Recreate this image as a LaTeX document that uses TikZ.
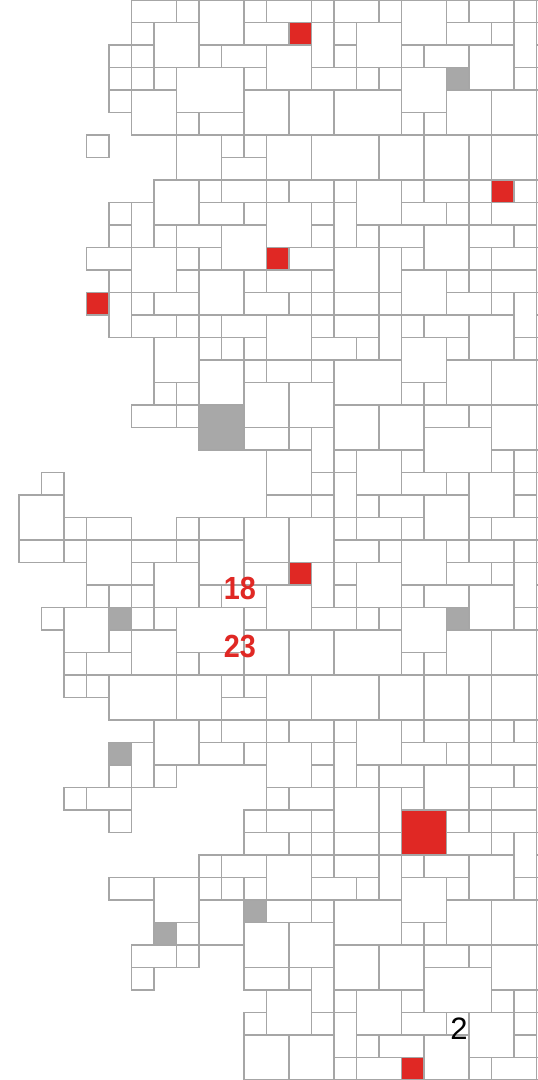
\documentclass[tikz,border=0pt]{standalone}
\usepackage{fontspec}
\setmainfont{Liberation Sans}
\definecolor{lin}{RGB}{166,166,166}
\definecolor{tred}{RGB}{224,40,36}
\definecolor{tgray}{RGB}{168,168,168}
\tikzset{
  tile/.style={draw=lin, line width=1.7pt, fill=white},
  redtile/.style={tile, fill=tred},
  graytile/.style={tile, fill=tgray},
  numred/.style={text=tred, font=\bfseries\fontsize{32}{32}\selectfont, inner sep=0pt, xscale=0.9},
  numblack/.style={text=black, font=\fontsize{31}{31}\selectfont, inner sep=0pt}
}
\newcommand{\TT}[5]{\draw[#5] ({19+22.5*#1},{-22.5*#2}) rectangle ({19+22.5*(#1+#3)},{-22.5*(#2+#4)});}
\begin{document}
\begin{tikzpicture}[x=1pt,y=1pt]
\useasboundingbox (0,0) rectangle (538,-1080);
\clip (0,0) rectangle (538,-1080);
\fill[white] (0,0) rectangle (538,-1080);
\foreach \c/\r/\w/\h/\s in {
5/0/2/1/tile, 7/0/1/1/tile, 8/0/2/2/tile, 10/0/1/1/tile, 11/0/2/1/tile, 13/0/1/1/tile, 14/0/2/1/tile, 16/0/1/1/tile, 17/0/2/2/tile, 19/0/1/1/tile, 20/0/2/1/tile, 22/0/1/1/tile,
5/1/1/1/tile, 6/1/2/2/tile, 10/1/2/1/tile, 12/1/1/1/redtile, 13/1/1/2/tile, 14/1/1/1/tile, 15/1/2/2/tile, 19/1/2/1/tile, 21/1/1/1/tile, 22/1/1/2/tile,
4/2/1/1/tile, 5/2/1/1/tile, 8/2/1/1/tile, 9/2/2/1/tile, 11/2/2/2/tile, 14/2/1/1/tile, 17/2/1/1/tile, 18/2/2/1/tile, 20/2/2/2/tile,
4/3/1/1/tile, 5/3/1/1/tile, 6/3/1/1/tile, 7/3/3/2/tile, 10/3/1/1/tile, 13/3/2/1/tile, 15/3/1/1/tile, 16/3/1/1/tile, 17/3/2/2/tile, 19/3/1/1/graytile, 22/3/1/1/tile,
4/4/1/1/tile, 5/4/2/2/tile, 10/4/2/2/tile, 12/4/2/2/tile, 14/4/3/2/tile, 19/4/2/2/tile, 21/4/2/2/tile,
7/5/1/1/tile, 8/5/2/1/tile, 17/5/1/1/tile, 18/5/1/1/tile,
3/6/1/1/tile, 7/6/2/2/tile, 9/6/1/1/tile, 10/6/1/1/tile, 11/6/2/2/tile, 13/6/3/2/tile, 16/6/2/2/tile, 18/6/2/2/tile, 20/6/1/2/tile, 21/6/2/2/tile,
9/7/2/1/tile,
6/8/2/2/tile, 8/8/1/1/tile, 9/8/2/1/tile, 11/8/1/1/tile, 12/8/2/1/tile, 14/8/1/1/tile, 15/8/2/2/tile, 17/8/1/1/tile, 18/8/2/1/tile, 20/8/1/1/tile, 21/8/1/1/redtile, 22/8/1/1/tile,
4/9/1/1/tile, 5/9/1/2/tile, 8/9/2/1/tile, 10/9/1/1/tile, 11/9/2/2/tile, 13/9/1/1/tile, 14/9/1/2/tile, 17/9/2/1/tile, 19/9/1/1/tile, 20/9/1/1/tile, 21/9/2/1/tile,
4/10/1/1/tile, 6/10/1/1/tile, 7/10/2/1/tile, 9/10/2/2/tile, 13/10/1/1/tile, 15/10/1/1/tile, 16/10/2/1/tile, 18/10/2/2/tile, 20/10/2/1/tile, 22/10/1/1/tile,
3/11/2/1/tile, 5/11/2/2/tile, 7/11/1/1/tile, 8/11/1/1/tile, 11/11/1/1/redtile, 12/11/2/1/tile, 14/11/2/2/tile, 16/11/1/2/tile, 17/11/1/1/tile, 20/11/1/1/tile, 21/11/2/1/tile,
4/12/1/1/tile, 7/12/1/1/tile, 8/12/2/2/tile, 10/12/1/1/tile, 11/12/2/1/tile, 13/12/1/1/tile, 17/12/2/2/tile, 19/12/1/1/tile, 20/12/1/1/tile, 21/12/2/1/tile,
3/13/1/1/redtile, 4/13/1/2/tile, 5/13/1/1/tile, 6/13/2/1/tile, 10/13/2/1/tile, 12/13/1/1/tile, 13/13/1/1/tile, 14/13/2/1/tile, 16/13/1/1/tile, 19/13/2/1/tile, 21/13/1/1/tile, 22/13/1/2/tile,
5/14/2/1/tile, 7/14/1/1/tile, 8/14/1/1/tile, 9/14/2/1/tile, 11/14/2/2/tile, 13/14/1/1/tile, 14/14/2/1/tile, 16/14/1/2/tile, 17/14/1/1/tile, 18/14/2/1/tile, 20/14/2/2/tile,
6/15/2/2/tile, 8/15/1/1/tile, 9/15/1/1/tile, 10/15/1/1/tile, 13/15/2/1/tile, 15/15/1/1/tile, 17/15/2/2/tile, 19/15/1/1/tile, 22/15/1/1/tile,
8/16/2/2/tile, 10/16/1/1/tile, 11/16/2/1/tile, 13/16/1/1/tile, 14/16/3/2/tile, 19/16/2/2/tile, 21/16/2/2/tile,
6/17/1/1/tile, 7/17/1/1/tile, 10/17/2/2/tile, 12/17/2/2/tile, 17/17/1/1/tile, 18/17/1/1/tile,
5/18/2/1/tile, 7/18/1/1/tile, 8/18/2/2/graytile, 14/18/2/2/tile, 16/18/2/2/tile, 18/18/2/1/tile, 20/18/1/1/tile, 21/18/2/2/tile,
10/19/2/1/tile, 12/19/1/1/tile, 13/19/1/2/tile, 18/19/3/2/tile,
11/20/2/2/tile, 14/20/1/1/tile, 15/20/2/2/tile, 17/20/1/1/tile, 21/20/1/1/tile, 22/20/1/1/tile,
1/21/1/1/tile, 13/21/1/1/tile, 14/21/1/2/tile, 17/21/2/1/tile, 19/21/1/1/tile, 20/21/2/2/tile, 22/21/1/1/tile,
0/22/2/2/tile, 11/22/2/1/tile, 13/22/1/1/tile, 15/22/1/1/tile, 16/22/2/1/tile, 18/22/2/2/tile, 22/22/1/1/tile,
2/23/1/1/tile, 3/23/2/1/tile, 7/23/1/1/tile, 8/23/2/1/tile, 10/23/2/2/tile, 12/23/2/2/tile, 14/23/1/1/tile, 15/23/2/1/tile, 17/23/1/1/tile, 20/23/1/1/tile, 21/23/2/1/tile,
0/24/2/1/tile, 2/24/1/1/tile, 3/24/2/2/tile, 5/24/2/1/tile, 7/24/1/1/tile, 8/24/2/2/tile, 14/24/2/1/tile, 16/24/1/1/tile, 17/24/2/2/tile, 19/24/1/1/tile, 20/24/2/1/tile, 22/24/1/1/tile,
5/25/1/1/tile, 6/25/2/2/tile, 10/25/2/1/tile, 12/25/1/1/redtile, 13/25/1/2/tile, 14/25/1/1/tile, 15/25/2/2/tile, 19/25/2/1/tile, 21/25/1/1/tile, 22/25/1/2/tile,
3/26/1/1/tile, 4/26/1/1/tile, 5/26/1/1/tile, 8/26/1/1/tile, 9/26/2/1/tile, 11/26/2/2/tile, 14/26/1/1/tile, 17/26/1/1/tile, 18/26/2/1/tile, 20/26/2/2/tile,
1/27/1/1/tile, 2/27/2/2/tile, 4/27/1/1/graytile, 5/27/1/1/tile, 6/27/1/1/tile, 7/27/3/2/tile, 10/27/1/1/tile, 13/27/2/1/tile, 15/27/1/1/tile, 16/27/1/1/tile, 17/27/2/2/tile, 19/27/1/1/graytile, 22/27/1/1/tile,
4/28/1/1/tile, 5/28/2/2/tile, 10/28/2/2/tile, 12/28/2/2/tile, 14/28/3/2/tile, 19/28/2/2/tile, 21/28/2/2/tile,
2/29/1/1/tile, 3/29/2/1/tile, 7/29/1/1/tile, 8/29/2/1/tile, 17/29/1/1/tile, 18/29/1/1/tile,
2/30/1/1/tile, 3/30/1/1/tile, 4/30/3/2/tile, 7/30/2/2/tile, 9/30/1/1/tile, 10/30/1/1/tile, 11/30/2/2/tile, 13/30/3/2/tile, 16/30/2/2/tile, 18/30/2/2/tile, 20/30/1/2/tile, 21/30/2/2/tile,
9/31/2/1/tile,
6/32/2/2/tile, 8/32/1/1/tile, 9/32/2/1/tile, 11/32/1/1/tile, 12/32/2/1/tile, 14/32/1/1/tile, 15/32/2/2/tile, 17/32/1/1/tile, 18/32/2/1/tile, 20/32/1/1/tile, 21/32/1/1/tile, 22/32/1/1/tile,
4/33/1/1/graytile, 5/33/1/2/tile, 8/33/2/1/tile, 10/33/1/1/tile, 11/33/2/2/tile, 13/33/1/1/tile, 14/33/1/2/tile, 17/33/2/1/tile, 19/33/1/1/tile, 20/33/1/1/tile, 21/33/2/1/tile,
4/34/1/1/tile, 6/34/1/1/tile, 13/34/1/1/tile, 15/34/1/1/tile, 16/34/2/1/tile, 18/34/2/2/tile, 20/34/2/1/tile, 22/34/1/1/tile,
2/35/1/1/tile, 3/35/2/1/tile, 11/35/1/1/tile, 12/35/2/1/tile, 14/35/2/2/tile, 16/35/1/2/tile, 17/35/1/1/tile, 20/35/1/1/tile, 21/35/2/1/tile,
4/36/1/1/tile, 10/36/1/1/tile, 11/36/2/1/tile, 13/36/1/1/tile, 17/36/2/2/redtile, 19/36/1/1/tile, 20/36/1/1/tile, 21/36/2/1/tile,
10/37/2/1/tile, 12/37/1/1/tile, 13/37/1/1/tile, 14/37/2/1/tile, 16/37/1/1/tile, 19/37/2/1/tile, 21/37/1/1/tile, 22/37/1/2/tile,
8/38/1/1/tile, 9/38/2/1/tile, 11/38/2/2/tile, 13/38/1/1/tile, 14/38/2/1/tile, 16/38/1/2/tile, 17/38/1/1/tile, 18/38/2/1/tile, 20/38/2/2/tile,
4/39/2/1/tile, 6/39/2/2/tile, 8/39/1/1/tile, 9/39/1/1/tile, 10/39/1/1/tile, 13/39/2/1/tile, 15/39/1/1/tile, 17/39/2/2/tile, 19/39/1/1/tile, 22/39/1/1/tile,
8/40/2/2/tile, 10/40/1/1/graytile, 11/40/2/1/tile, 13/40/1/1/tile, 14/40/3/2/tile, 19/40/2/2/tile, 21/40/2/2/tile,
6/41/1/1/graytile, 7/41/1/1/tile, 10/41/2/2/tile, 12/41/2/2/tile, 17/41/1/1/tile, 18/41/1/1/tile,
5/42/2/1/tile, 7/42/1/1/tile, 14/42/2/2/tile, 16/42/2/2/tile, 18/42/2/1/tile, 20/42/1/1/tile, 21/42/2/2/tile,
5/43/1/1/tile, 10/43/2/1/tile, 12/43/1/1/tile, 13/43/1/2/tile, 18/43/3/2/tile,
11/44/2/2/tile, 14/44/1/1/tile, 15/44/2/2/tile, 17/44/1/1/tile, 21/44/1/1/tile, 22/44/1/1/tile,
10/45/1/1/tile, 13/45/1/1/tile, 14/45/1/2/tile, 17/45/2/1/tile, 19/45/1/1/tile, 20/45/2/2/tile, 22/45/1/1/tile,
10/46/2/2/tile, 12/46/2/2/tile, 15/46/1/1/tile, 16/46/2/1/tile, 18/46/2/2/tile, 22/46/1/1/tile,
14/47/1/1/tile, 15/47/2/1/tile, 17/47/1/1/redtile, 20/47/1/1/tile, 21/47/2/1/tile,
23/0/2/1/tile, 23/1/1/1/tile, 23/2/1/1/tile, 23/3/1/1/tile, 23/4/2/2/tile, 23/6/2/2/tile, 23/8/1/1/tile, 23/9/1/2/tile, 23/11/2/2/tile, 23/13/2/1/tile, 23/14/2/1/tile, 23/15/1/1/tile, 23/16/2/2/tile, 23/18/2/2/tile, 23/20/1/1/tile, 23/21/1/2/tile, 23/23/1/1/tile,
23/24/2/1/tile, 23/25/1/1/tile, 23/26/1/1/tile, 23/27/1/1/tile, 23/28/2/2/tile, 23/30/2/2/tile, 23/32/1/1/tile, 23/33/1/2/tile, 23/35/2/2/tile, 23/37/2/1/tile, 23/38/2/1/tile, 23/39/1/1/tile, 23/40/2/2/tile, 23/42/2/2/tile, 23/44/1/1/tile, 23/45/1/2/tile, 23/47/1/1/tile}{\TT{\c}{\r}{\w}{\h}{\s}}
\node[numred] (n18) at (240,-588) {18};
\node[numred] (n23) at (240,-646) {23};
\node[numblack] (n2) at (459,-1028.5) {2};
\end{tikzpicture}
\end{document}
